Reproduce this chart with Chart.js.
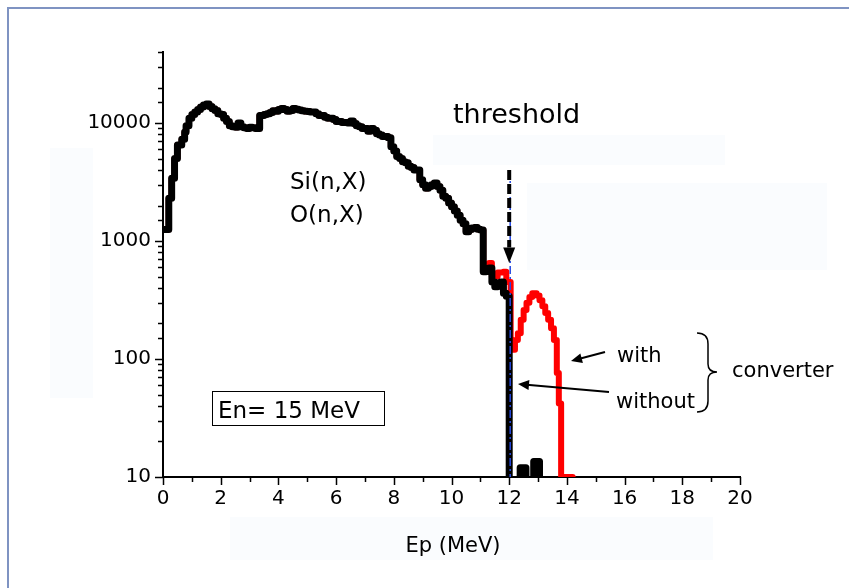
<!DOCTYPE html>
<html>
<head>
<meta charset="utf-8">
<script src="https://cdn.jsdelivr.net/npm/chart.js@4.4.0/dist/chart.umd.min.js"></script>
<style>
  body { margin: 0; background: #fff; }
  canvas { display: block; }
</style>
</head>
<body>
<canvas id="spectrum" width="849" height="588"></canvas>
<script>
// proton spectrum Si(n,X) + O(n,X), En = 15 MeV
// histogram: left bin edges (MeV), counts per bin, last edge closes the last bin
const withoutEdges = [0.05, 0.2, 0.3, 0.4, 0.5, 0.65, 0.75, 0.8, 0.9, 1.0, 1.1, 1.2, 1.3, 1.4, 1.5, 1.6, 1.7, 1.8, 1.9, 2.0,
  2.1, 2.2, 2.3, 2.4, 2.5, 2.6, 2.7, 2.8, 2.9, 3.0, 3.1, 3.2, 3.35, 3.5, 3.6, 3.7, 3.8, 3.9, 4.0, 4.1,
  4.2, 4.3, 4.4, 4.5, 4.6, 4.7, 4.8, 4.9, 5.0, 5.1, 5.2, 5.3, 5.4, 5.5, 5.6, 5.7, 5.8, 5.9, 6.0, 6.2,
  6.4, 6.5, 6.6, 6.7, 6.8, 6.9, 7.0, 7.1, 7.2, 7.3, 7.4, 7.5, 7.6, 7.8, 7.9, 8.0, 8.1, 8.2, 8.3, 8.4,
  8.5, 8.6, 8.7, 8.8, 8.9, 9.0, 9.1, 9.2, 9.3, 9.4, 9.5, 9.6, 9.7, 9.8, 9.9, 10.0, 10.1, 10.2, 10.3, 10.4,
  10.5, 10.6, 10.7, 10.8, 10.9, 11.0, 11.1, 11.2, 11.3, 11.4, 11.5, 11.6, 11.7, 11.8, 11.9, 12.0,
  12.38, 12.58, 12.85, 13.05, 13.2]
const withoutCounts = [1250, 2300, 3400, 5000, 6500, 7300, 8400, 9500, 11000, 11800, 12400, 13000, 13700, 14200, 14500, 13800, 13200, 12800, 12000, 11800,
  11000, 10300, 9500, 9300, 9200, 10000, 9300, 9100, 9000, 9200, 9100, 9000, 11600, 11800, 12000, 12300, 12700, 12600, 13000, 13300,
  13000, 12600, 12800, 13300, 13100, 12900, 12700, 12600, 12500, 12400, 12400, 12000, 11600, 11600, 11200, 11000, 11000, 10700, 10300, 10100,
  10000, 10400, 9900, 9500, 9300, 9000, 9000, 8500, 9000, 8700, 8100, 7900, 7700, 7500, 6300, 5800, 5200, 5000, 4700, 4600,
  4300, 4200, 4000, 4000, 3300, 3000, 2800, 2900, 3000, 3100, 2900, 2700, 2400, 2300, 2100, 1950, 1800, 1650, 1500, 1400,
  1200, 1250, 1290, 1300, 1260, 1240, 550, 570, 590, 450, 410, 440, 450, 360, 340, 9,
  12, 9, 13.5, 9]

const withEdges = [0.05, 0.2, 0.3, 0.4, 0.5, 0.65, 0.75, 0.8, 0.9, 1.0, 1.1, 1.2, 1.3, 1.4, 1.5, 1.6, 1.7, 1.8, 1.9, 2.0,
  2.1, 2.2, 2.3, 2.4, 2.5, 2.6, 2.7, 2.8, 2.9, 3.0, 3.1, 3.2, 3.35, 3.5, 3.6, 3.7, 3.8, 3.9, 4.0, 4.1,
  4.2, 4.3, 4.4, 4.5, 4.6, 4.7, 4.8, 4.9, 5.0, 5.1, 5.2, 5.3, 5.4, 5.5, 5.6, 5.7, 5.8, 5.9, 6.0, 6.2,
  6.4, 6.5, 6.6, 6.7, 6.8, 6.9, 7.0, 7.1, 7.2, 7.3, 7.4, 7.5, 7.6, 7.8, 7.9, 8.0, 8.1, 8.2, 8.3, 8.4,
  8.5, 8.6, 8.7, 8.8, 8.9, 9.0, 9.1, 9.2, 9.3, 9.4, 9.5, 9.6, 9.7, 9.8, 9.9, 10.0, 10.1, 10.2, 10.3, 10.4,
  10.5, 10.6, 10.7, 10.8, 10.9, 11.0, 11.1, 11.2, 11.3, 11.4, 11.5, 11.6, 11.7, 11.8, 11.9, 12.05,
  12.2, 12.3, 12.4, 12.5, 12.6, 12.7, 12.8, 12.95, 13.05, 13.15, 13.25, 13.35, 13.45, 13.55, 13.65, 13.72,
  13.8, 13.88, 14.2]
const withCounts = [1250, 2300, 3400, 5000, 6500, 7300, 8400, 9500, 11000, 11800, 12400, 13000, 13700, 14200, 14500, 13800, 13200, 12800, 12000, 11800,
  11000, 10300, 9500, 9300, 9200, 10000, 9300, 9100, 9000, 9200, 9100, 9000, 11600, 11800, 12000, 12300, 12700, 12600, 13000, 13300,
  13000, 12600, 12800, 13300, 13100, 12900, 12700, 12600, 12500, 12400, 12400, 12000, 11600, 11600, 11200, 11000, 11000, 10700, 10300, 10100,
  10000, 10400, 9900, 9500, 9300, 9000, 9000, 8500, 9000, 8700, 8100, 7900, 7700, 7500, 6300, 5800, 5200, 5000, 4700, 4600,
  4300, 4200, 4000, 4000, 3300, 3000, 2800, 2900, 3000, 3100, 2900, 2700, 2400, 2300, 2100, 1950, 1800, 1650, 1500, 1400,
  1200, 1250, 1290, 1300, 1260, 1240, 560, 620, 650, 500, 500, 540, 540, 550, 450, 120,
  145, 165, 215, 260, 300, 335, 360, 345, 315, 280, 245, 215, 182, 145, 76,
  42, 10]

const yLabelValues = [10, 100, 1000, 10000]
const thresholdEp = 12        // MeV
const thresholdTop = 4000     // where the threshold marks start
const arrowBase = 880
const arrowTip = 650

const FONT = 'DejaVu Sans'

//zamiana histogramu na punkty do linii schodkowej
function toSteps(edges, counts) {
  return edges.map((e, i) => ({ x: e, y: i < counts.length ? counts[i] : counts[counts.length - 1] }))
}

function arrow(ctx, x1, y1, x2, y2, head) {
  const ang = Math.atan2(y2 - y1, x2 - x1)
  ctx.beginPath()
  ctx.moveTo(x1, y1)
  ctx.lineTo(x2 - Math.cos(ang) * head * 0.8, y2 - Math.sin(ang) * head * 0.8)
  ctx.stroke()
  ctx.beginPath()
  ctx.moveTo(x2, y2)
  ctx.lineTo(x2 - head * Math.cos(ang) + head * 0.45 * Math.sin(ang), y2 - head * Math.sin(ang) - head * 0.45 * Math.cos(ang))
  ctx.lineTo(x2 - head * Math.cos(ang) - head * 0.45 * Math.sin(ang), y2 - head * Math.sin(ang) + head * 0.45 * Math.cos(ang))
  ctx.closePath()
  ctx.fill()
}

const decor = {
  id: 'decor',
  beforeDraw(chart) {
    const ctx = chart.ctx
    ctx.save()
    ctx.fillStyle = '#ffffff'
    ctx.fillRect(0, 0, chart.width, chart.height)
    // faint boxes left over on the slide
    ctx.fillStyle = '#fafcfe'
    ctx.fillRect(50, 148, 43, 250)
    ctx.fillRect(433, 135, 292, 30)
    ctx.fillRect(527, 183, 300, 87)
    ctx.fillRect(230, 517, 483, 43)
    // slide frame
    ctx.strokeStyle = '#7f93c2'
    ctx.lineWidth = 2
    ctx.beginPath()
    ctx.moveTo(8, chart.height)
    ctx.lineTo(8, 8)
    ctx.lineTo(chart.width, 8)
    ctx.stroke()
    ctx.restore()
  },
  afterDraw(chart) {
    const ctx = chart.ctx
    const xs = chart.scales.x
    const ys = chart.scales.y
    const area = chart.chartArea
    ctx.save()

    // tick marks, long for labelled ones
    ctx.strokeStyle = '#000'
    ctx.lineWidth = 1.5
    ctx.beginPath()
    xs.ticks.forEach(t => {
      const px = Math.round(xs.getPixelForValue(t.value)) + 0.5
      const len = t.value % 2 === 0 ? 8 : 5
      ctx.moveTo(px, area.bottom)
      ctx.lineTo(px, area.bottom + len)
    })
    ys.ticks.forEach(t => {
      const py = Math.round(ys.getPixelForValue(t.value)) + 0.5
      const len = yLabelValues.includes(t.value) ? 8 : 5
      ctx.moveTo(area.left, py)
      ctx.lineTo(area.left - len, py)
    })
    ctx.stroke()

    // threshold: blue dash-dot line and black dashed arrow
    const tx = xs.getPixelForValue(thresholdEp)
    ctx.strokeStyle = '#2448e0'
    ctx.lineWidth = 1.5
    ctx.setLineDash([8, 3, 2, 3])
    ctx.beginPath()
    ctx.moveTo(tx + 1, ys.getPixelForValue(thresholdTop))
    ctx.lineTo(tx + 1, area.bottom)
    ctx.stroke()

    ctx.strokeStyle = '#000'
    ctx.lineWidth = 4
    ctx.setLineDash([10, 4])
    ctx.beginPath()
    ctx.moveTo(tx, ys.getPixelForValue(thresholdTop))
    ctx.lineTo(tx, ys.getPixelForValue(arrowBase))
    ctx.stroke()
    ctx.setLineDash([])
    ctx.fillStyle = '#000'
    ctx.beginPath()
    ctx.moveTo(tx - 6, ys.getPixelForValue(arrowBase))
    ctx.lineTo(tx + 6, ys.getPixelForValue(arrowBase))
    ctx.lineTo(tx, ys.getPixelForValue(arrowTip))
    ctx.closePath()
    ctx.fill()

    // texts
    ctx.fillStyle = '#000'
    ctx.textBaseline = 'alphabetic'
    ctx.textAlign = 'left'
    ctx.font = '27px "' + FONT + '"'
    ctx.fillText('threshold', 453, 123)
    ctx.font = '23px "' + FONT + '"'
    ctx.fillText('Si(n,X)', 290, 189)
    ctx.fillText('O(n,X)', 290, 222)
    ctx.font = '21px "' + FONT + '"'
    ctx.fillText('with', 617, 362)
    ctx.fillText('without', 616, 408)
    ctx.fillText('converter', 732, 377)
    ctx.textAlign = 'center'
    ctx.fillText('Ep (MeV)', 453, 552)

    // En box
    ctx.textAlign = 'left'
    ctx.lineWidth = 1
    ctx.strokeRect(212.5, 391.5, 172, 34)
    ctx.font = '23px "' + FONT + '"'
    ctx.fillText('En= 15 MeV', 218, 418)

    // arrows to the curves
    ctx.lineWidth = 2
    arrow(ctx, 605, 352, 571, 361, 11)
    arrow(ctx, 609, 392, 518, 384, 11)

    // brace
    ctx.lineWidth = 1.5
    ctx.beginPath()
    ctx.moveTo(697, 333)
    ctx.quadraticCurveTo(708, 333, 708, 344)
    ctx.lineTo(708, 364)
    ctx.quadraticCurveTo(708, 372, 717, 372)
    ctx.quadraticCurveTo(708, 372, 708, 380)
    ctx.lineTo(708, 401)
    ctx.quadraticCurveTo(708, 412, 697, 412)
    ctx.stroke()

    ctx.restore()
  }
}

const tickFont = { family: FONT, size: 20 }

new Chart(document.getElementById('spectrum'), {
  type: 'line',
  data: {
    datasets: [
      {
        label: 'without converter',
        data: toSteps(withoutEdges, withoutCounts),
        borderColor: '#000000',
        borderWidth: 7,
        stepped: true,
        pointRadius: 0,
        borderJoinStyle: 'round',
        borderCapStyle: 'round',
        clip: 0,
        order: 0
      },
      {
        label: 'with converter',
        data: toSteps(withEdges, withCounts),
        borderColor: '#ff0000',
        borderWidth: 6,
        stepped: true,
        pointRadius: 0,
        borderJoinStyle: 'round',
        borderCapStyle: 'round',
        clip: 0,
        order: 1
      }
    ]
  },
  options: {
    responsive: false,
    animation: false,
    layout: { padding: { top: 52, right: 109, left: 0, bottom: 0 } },
    plugins: { legend: { display: false }, tooltip: { enabled: false } },
    scales: {
      x: {
        type: 'linear',
        min: 0,
        max: 20,
        grid: { display: false, drawTicks: false },
        border: { display: true, color: '#000', width: 2 },
        ticks: {
          stepSize: 1,
          autoSkip: false,
          maxRotation: 0,
          color: '#000',
          font: tickFont,
          padding: 10,
          callback: v => (v % 2 === 0 ? String(v) : '')
        },
        afterFit: axis => { axis.height = 111 }
      },
      y: {
        type: 'logarithmic',
        min: 10,
        max: 40000,
        grid: { display: false, drawTicks: false },
        border: { display: true, color: '#000', width: 2 },
        ticks: {
          autoSkip: false,
          color: '#000',
          font: tickFont,
          padding: 12,
          callback: v => (yLabelValues.includes(v) ? String(v) : '')
        },
        afterFit: axis => { axis.width = 163 }
      }
    }
  },
  plugins: [decor]
})
</script>
</body>
</html>
